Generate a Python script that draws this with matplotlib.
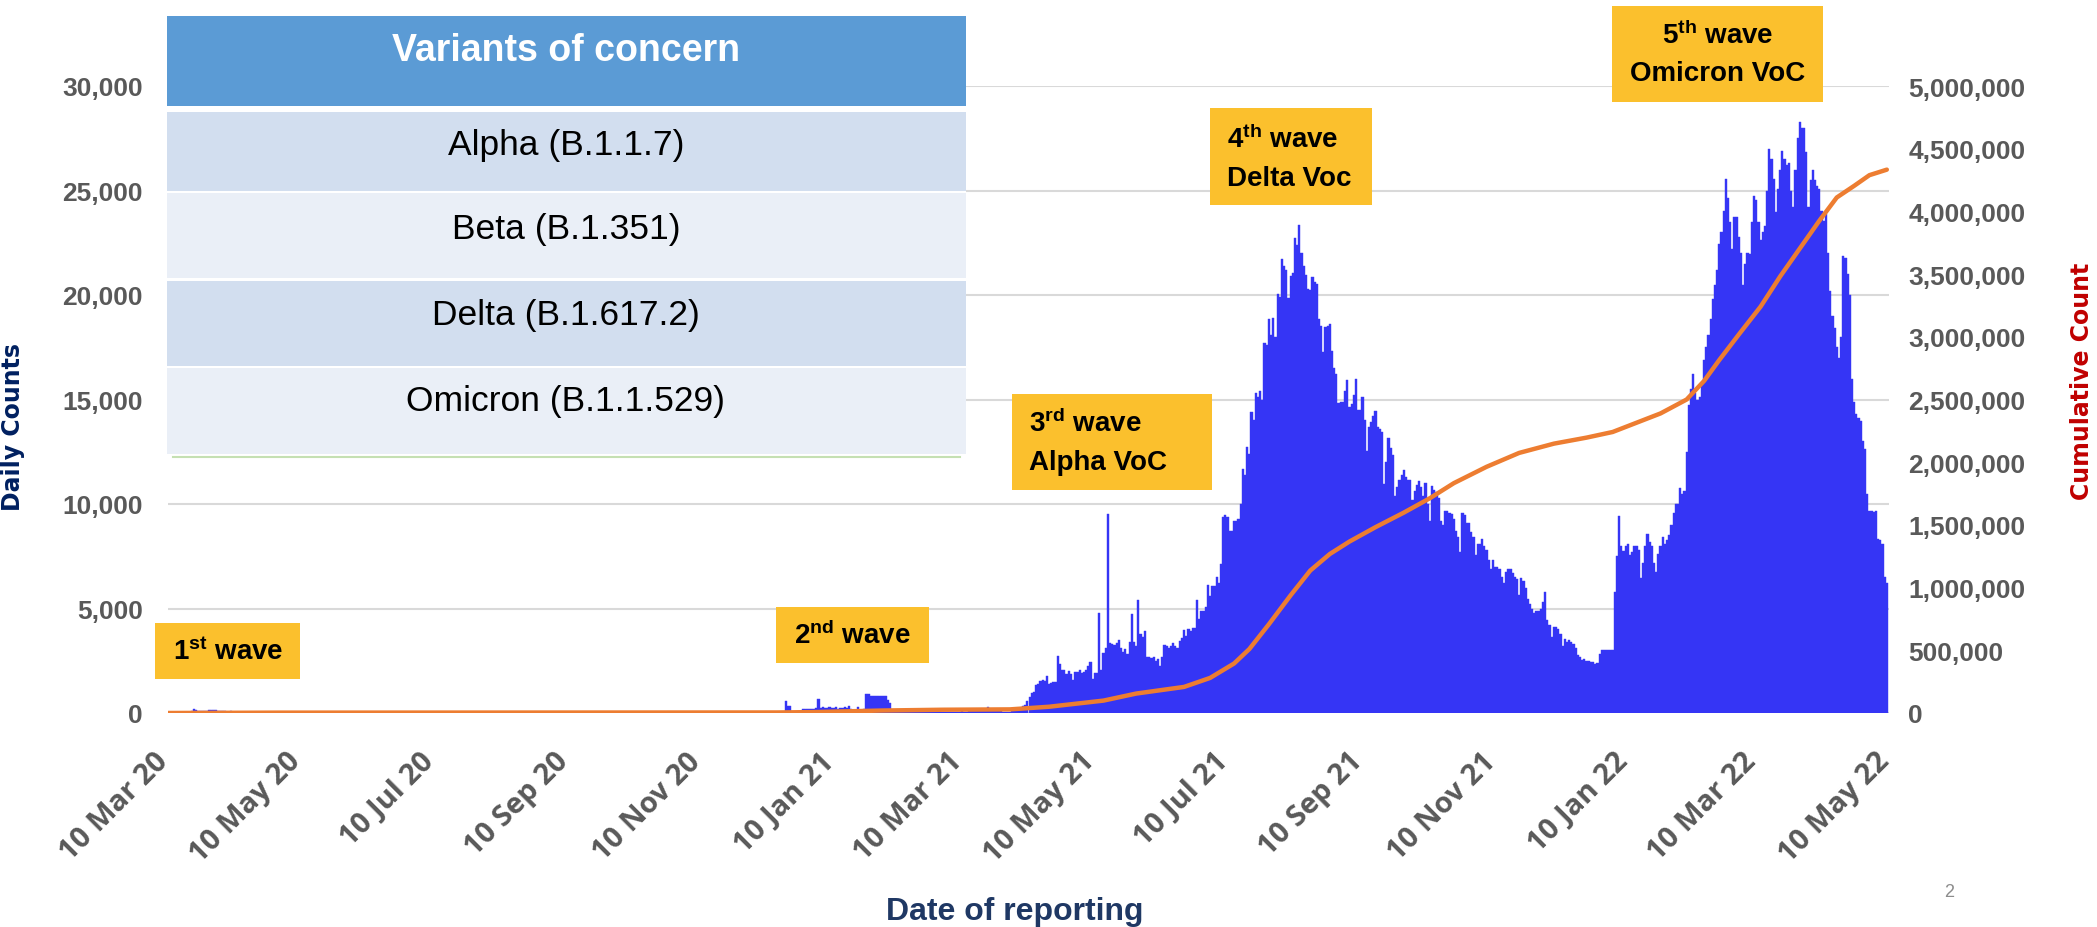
import matplotlib.pyplot as plt
from matplotlib.patches import Rectangle
from matplotlib.lines import Line2D
from matplotlib.ticker import FuncFormatter
import matplotlib.transforms as mtransforms
import numpy as np
import pandas as pd

plt.rcParams['mathtext.fontset'] = 'custom'
plt.rcParams['mathtext.rm'] = 'Liberation Sans:bold'
plt.rcParams['mathtext.it'] = 'Liberation Sans:bold'
plt.rcParams['mathtext.bf'] = 'Liberation Sans:bold'

# ---- daily counts ----
# first wave, 10 Mar 2020 - 30 Apr 2020
wave1_2020 = [4, 6, 5, 11, 7, 32, 33, 30, 35, 60, 50, 89, 188, 122, 106, 107, 111, 91,
              109, 143, 136, 127, 120, 104, 103, 89, 102, 51, 38, 111, 54, 50, 45, 33,
              28, 34, 30, 29, 28, 33, 32, 27, 19, 15, 15, 13, 7, 9, 7, 3, 6, 7]
# from 15 Dec 2020 onwards, one list per month
dec_2020 = [10, 15, 10, 20, 560, 340, 330, 60, 50, 60, 80, 90, 190, 180, 200, 190, 200]
jan_2021 = [200, 250, 690, 250, 300, 260, 250, 280, 240, 250, 300, 200, 250, 230, 290,
            220, 350, 180, 150, 160, 270, 120, 150, 200, 910, 900, 830, 830, 820, 830, 810]
feb_2021 = [800, 800, 790, 640, 500, 120, 100, 110, 90, 100, 80, 70, 120, 90, 80, 70,
            100, 70, 50, 60, 80, 60, 70, 60, 80, 100, 70, 60]
mar_2021 = [60, 50, 60, 50, 70, 50, 60, 70, 60, 80, 60, 70, 80, 90, 80, 110, 120, 120,
            90, 100, 90, 300, 100, 110, 90, 100, 90, 90, 70, 40, 60]
apr_2021 = [50, 80, 90, 100, 190, 250, 330, 400, 560, 780, 960, 1000, 1330, 1380, 1540,
            1580, 1540, 1770, 1390, 1440, 1460, 1480, 2750, 2360, 2050, 2050, 1850, 2010,
            1870, 1580]
may_2021 = [1980, 1940, 2040, 1900, 1950, 2040, 2260, 2420, 1630, 1920, 1920, 4780, 2050,
            2870, 3100, 9540, 3360, 3300, 3250, 3360, 3480, 3100, 2900, 3050, 2800, 3400,
            4740, 3400, 3200, 5430, 3800]
jun_2021 = [3650, 3900, 2670, 2700, 2650, 2670, 2500, 2600, 2270, 2700, 3260, 3200, 3100,
            3200, 3350, 3200, 3100, 3450, 3600, 3950, 3700, 4000, 3900, 4050, 4090, 5390,
            4500, 4880, 4900, 5050]
jul_2021 = [6130, 5600, 6080, 6080, 6520, 6200, 7110, 9390, 9480, 9400, 8690, 8690, 9170,
            9200, 9300, 9980, 11660, 11400, 12740, 12400, 14420, 14000, 15310, 15100,
            15400, 15000, 17680, 17600, 18830, 18080, 18900]
aug_2021 = [18000, 20060, 19900, 21740, 21400, 21200, 19860, 20900, 21040, 22720, 22400,
            23360, 22030, 21400, 20950, 20300, 20250, 20850, 20600, 20550, 18870, 18500,
            17290, 18480, 18500, 18610, 17300, 16500, 16200, 14820, 14900]
sep_2021 = [14900, 15400, 15910, 14620, 14800, 15200, 16000, 14500, 14500, 15120, 14000,
            12550, 13700, 13900, 14200, 14460, 13700, 13600, 13440, 10970, 12000, 13140,
            12700, 12350, 10370, 10800, 11160, 11400, 11620, 11300]
oct_2021 = [11160, 11160, 10170, 10600, 10900, 11100, 10800, 10400, 11000, 9980, 9190,
            10870, 10660, 10570, 10300, 9190, 8990, 9660, 9660, 9580, 9500, 9300, 8700,
            8440, 7710, 9550, 9490, 9100, 9090, 8660, 8400]
nov_2021 = [7550, 8100, 8100, 8330, 8000, 7800, 7330, 6880, 7330, 7000, 7000, 6900, 6500,
            6220, 6770, 6880, 6880, 6700, 6500, 6400, 5660, 6440, 6300, 6000, 5440, 5200,
            5000, 4770, 4880, 4900]
dec_2021 = [5000, 5300, 5770, 4440, 4200, 3660, 4110, 4100, 4000, 3800, 3220, 3550, 3400,
            3500, 3400, 3300, 3100, 2775, 2700, 2550, 2600, 2500, 2500, 2440, 2440, 2330,
            2400, 2800, 3000, 3000, 3000]
jan_2022 = [3000, 3000, 3000, 5770, 7500, 9430, 8000, 7770, 8000, 8100, 7550, 7700, 7990,
            8000, 7800, 6440, 7200, 8000, 8550, 8200, 8000, 7200, 6770, 7600, 8000, 8440,
            8100, 8300, 8500, 9000, 9550]
feb_2022 = [9990, 10000, 10770, 10500, 10600, 12500, 14760, 15500, 16210, 15320, 15000,
            15100, 15800, 16870, 17500, 18090, 18870, 19800, 20500, 21200, 22420, 23000,
            24000, 25530, 24640, 23500, 22200, 23750]
mar_2022 = [23750, 22760, 22000, 20500, 21500, 22000, 21980, 23500, 24750, 24530, 23500,
            22640, 23000, 23310, 25000, 26970, 26500, 25530, 23980, 25090, 26000, 26910,
            26500, 26200, 26310, 25000, 24200, 26000, 27530, 28300, 27970]
apr_2022 = [28000, 26860, 24200, 25500, 25970, 25500, 25200, 25090, 24000, 23530, 23870,
            22000, 20200, 19000, 18430, 17500, 16980, 18000, 21870, 21760, 21000, 19980,
            16000, 14870, 14320, 14100, 13990, 13000, 12650, 10500]
may_2022 = [9660, 9660, 9600, 9660, 8330, 8300, 8100, 6500, 6220]

# ---- cumulative count (right axis) ----
cum_dates = ['2020-03-10', '2020-04-30', '2020-12-15', '2021-01-01', '2021-02-01',
             '2021-03-01', '2021-04-01', '2021-04-19', '2021-05-14', '2021-05-29',
             '2021-06-20', '2021-07-02', '2021-07-13', '2021-07-20', '2021-07-29',
             '2021-08-08', '2021-08-17', '2021-08-26', '2021-09-04', '2021-09-16',
             '2021-09-29', '2021-10-11', '2021-10-22', '2021-11-06', '2021-11-21',
             '2021-12-07', '2021-12-22', '2022-01-03', '2022-01-14', '2022-01-25',
             '2022-02-06', '2022-02-14', '2022-02-21', '2022-03-02', '2022-03-12',
             '2022-03-21', '2022-03-30', '2022-04-08', '2022-04-16', '2022-04-24',
             '2022-05-01', '2022-05-09']
cum_values = [50, 2950, 4250, 7200, 19600, 26000, 28900, 50000, 99000, 155000,
              208000, 280000, 395000, 510000, 708000, 939000, 1136000, 1268000,
              1367000, 1482000, 1598000, 1713000, 1833000, 1963000, 2074000,
              2148000, 2196000, 2241000, 2315000, 2389000, 2500000, 2648000,
              2815000, 3019000, 3241000, 3482000, 3704000, 3926000, 4111000,
              4204000, 4289000, 4333000]

variants = ['Alpha (B.1.1.7)', 'Beta (B.1.351)', 'Delta (B.1.617.2)', 'Omicron (B.1.1.529)']

later = (dec_2020 + jan_2021 + feb_2021 + mar_2021 + apr_2021 + may_2021 + jun_2021 +
         jul_2021 + aug_2021 + sep_2021 + oct_2021 + nov_2021 + dec_2021 + jan_2022 +
         feb_2022 + mar_2022 + apr_2022 + may_2022)
daily = pd.concat([
    pd.Series(wave1_2020, index=pd.date_range('2020-03-10', periods=len(wave1_2020))),
    pd.Series(later, index=pd.date_range('2020-12-15', periods=len(later))),
])

W, H = 2097, 928
fig = plt.figure(figsize=(W / 100, H / 100), dpi=100)


def fx(x):
    return x / W


def fy(y):
    return 1 - y / H


gray = '#595959'
ax = fig.add_axes([fx(168), fy(714), fx(1889) - fx(168), fy(87) - fy(714)])
ax.bar(daily.index, daily.values, width=1.0, color='#3535F5', edgecolor='#3535F5',
       linewidth=0.3, zorder=2)
ax.set_xlim(pd.Timestamp('2020-03-10'), pd.Timestamp('2022-05-10'))
ax.set_ylim(0, 30000)
ax.set_yticks(np.arange(0, 30001, 5000))
ax.yaxis.set_major_formatter(FuncFormatter(lambda v, p: f'{v:,.0f}'))
ax.grid(axis='y', color='#D9D9D9', lw=1.5)
ax.set_axisbelow(True)
for s in ax.spines.values():
    s.set_visible(False)
ax.tick_params(axis='y', length=0, pad=18, labelsize=19, labelcolor=gray)
for lbl in ax.get_yticklabels():
    lbl.set_family('Liberation Sans')
    lbl.set_weight('bold')

ticks = [pd.Timestamp('2020-03-10') + pd.DateOffset(months=2 * i) for i in range(14)]
ax.set_xticks(ticks)
ax.set_xticklabels([t.strftime('%d %b %y') for t in ticks], rotation=45, ha='right',
                   family='Open Sans', weight='bold', fontsize=21, color=gray)
ax.tick_params(axis='x', length=0, pad=24)
shift = mtransforms.ScaledTranslation(6 / 100, 0, fig.dpi_scale_trans)
for lbl in ax.get_xticklabels():
    lbl.set_transform(lbl.get_transform() + shift)

ax2 = ax.twinx()
ax2.plot(pd.to_datetime(cum_dates), cum_values, color='#ED7D31', lw=3.2,
         solid_capstyle='round')
ax2.set_ylim(0, 5000000)
ax2.set_yticks(np.arange(0, 5000001, 500000))
ax2.yaxis.set_major_formatter(FuncFormatter(lambda v, p: f'{v:,.0f}'))
for s in ax2.spines.values():
    s.set_visible(False)
ax2.tick_params(axis='y', length=0, pad=14, labelsize=19, labelcolor=gray)
for lbl in ax2.get_yticklabels():
    lbl.set_family('Liberation Sans')
    lbl.set_weight('bold')

# axis titles
fig.text(fx(13), fy(427), 'Daily Counts', rotation=90, color='#002060', fontsize=17,
         weight='bold', family='DejaVu Sans', ha='center', va='center')
fig.text(fx(2082), fy(381), 'Cumulative Count', rotation=90, color='#C00000', fontsize=17,
         weight='bold', family='DejaVu Sans', ha='center', va='center')
fig.text(fx(1015), fy(912), 'Date of reporting', color='#1F3864', fontsize=23,
         weight='bold', family='Liberation Sans', ha='center', va='center')
fig.text(fx(1949), fy(893), '2', color='#8C8C8C', fontsize=13, family='Liberation Sans',
         ha='center', va='center')


def box(x0, x1, y0, y1, color, z=5):
    fig.add_artist(Rectangle((fx(x0), fy(y1)), fx(x1) - fx(x0), fy(y0) - fy(y1),
                             transform=fig.transFigure, facecolor=color,
                             edgecolor='none', zorder=z))


# variants table
box(167, 966, 17, 455, 'white', z=4)
box(167, 966, 17, 107, '#5B9BD5')
fig.text(fx(566), fy(51), 'Variants of concern', color='white', fontsize=27,
         weight='bold', family='Liberation Sans', ha='center', va='center', zorder=6)
rows = [(113, 192, '#D2DEEF', 145), (194, 279, '#EAEFF7', 230),
        (282, 367, '#D2DEEF', 315), (369, 455, '#EAEFF7', 402)]
for name, (y0, y1, c, yt) in zip(variants, rows):
    box(167, 966, y0, y1, c)
    fig.text(fx(566), fy(yt), name, color='black', fontsize=25.5,
             family='Liberation Sans', ha='center', va='center', zorder=6)
fig.add_artist(Line2D([fx(173), fx(960)], [fy(458), fy(458)], transform=fig.transFigure,
                      color='#C5E0B3', lw=1.5, zorder=5))

# wave labels
yellow = '#FBC02D'
tk = dict(fontsize=20, weight='bold', family='Liberation Sans', color='black', zorder=6)
box(155, 300, 624, 680, yellow)
fig.text(fx(228), fy(652), '1$^{\\rm st}$ wave', ha='center', va='center', **tk)
box(776, 929, 608, 664, yellow)
fig.text(fx(852), fy(636), '2$^{\\rm nd}$ wave', ha='center', va='center', **tk)
box(1012, 1212, 395, 491, yellow)
fig.text(fx(1029), fy(424), '3$^{\\rm rd}$ wave', ha='left', va='center', **tk)
fig.text(fx(1029), fy(463), 'Alpha VoC', ha='left', va='center', **tk)
box(1210, 1372, 109, 206, yellow)
fig.text(fx(1227), fy(140), '4$^{\\rm th}$ wave', ha='left', va='center', **tk)
fig.text(fx(1227), fy(179), 'Delta Voc', ha='left', va='center', **tk)
box(1612, 1823, 7, 103, yellow)
fig.text(fx(1718), fy(36), '5$^{\\rm th}$ wave', ha='center', va='center', **tk)
fig.text(fx(1718), fy(74), 'Omicron VoC', ha='center', va='center', **tk)

fig.savefig('out.png', dpi=100)
